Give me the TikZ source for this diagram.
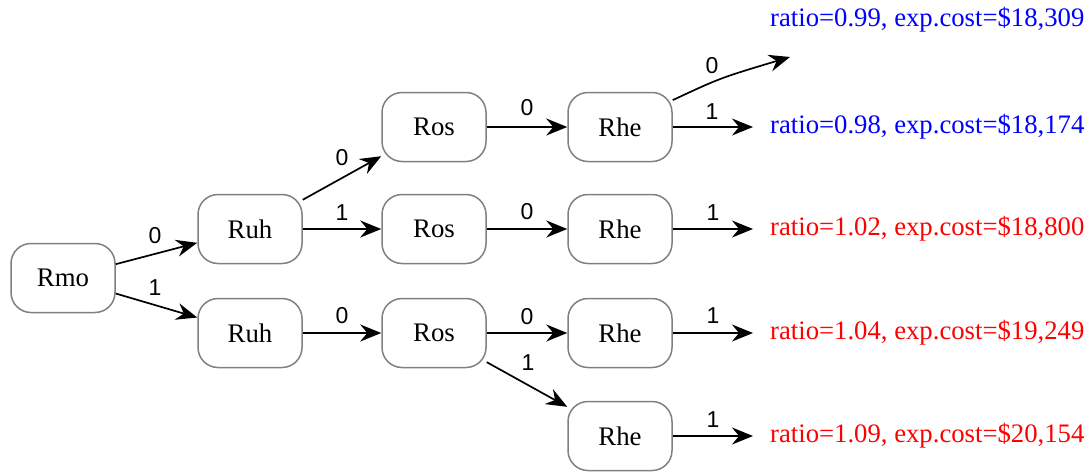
\documentclass[tikz,border=0pt]{standalone}
\usepackage{fontspec}
\setmainfont{Liberation Serif}
\newfontfamily\numfont{Liberation Sans}
\usetikzlibrary{arrows.meta}
\tikzset{
  box/.style={draw=gray, line width=1.5pt, rounded corners=20pt, minimum width=104pt, minimum height=69pt, font=\fontsize{26.8}{30}\selectfont},
  arr/.style={-{Stealth[length=21pt,width=17pt,inset=7pt]}, line width=1.7pt},
  num/.style={font=\numfont\fontsize{23}{26}\selectfont, inner sep=0pt},
  outc/.style={font=\fontsize{26.7}{30}\selectfont, anchor=west, inner xsep=17pt, inner ysep=2pt}
}
\newcommand\numlabel[4]{\node[num] (#1) at (#2,#3) {#4};}

\begin{document}
\begin{tikzpicture}[x=1pt,y=-1pt]
\useasboundingbox (0,0) rectangle (1091,471);
% the rules
\node[box] (rmo) at (63,278) {Rmo};
\node[box] (ruh0) at (250,229) {Ruh};
\node[box] (ruh1) at (250,333) {Ruh};
\node[box] (ros0) at (434,127) {Ros};
\node[box] (ros1) at (434,229) {Ros};
\node[box] (ros2) at (434,333) {Ros};
\foreach \n/\y in {0/127,1/229,2/333,3/436} \node[box] (rhe\n) at (620,\y) {Rhe};
% outcomes
\node[outc, blue] (out0) at (753,20) {ratio=0.99, exp.cost=\$18,309};
\node[outc, blue] (out1) at (753,127) {ratio=0.98, exp.cost=\$18,174};
\node[outc, red] (out2) at (753,229) {ratio=1.02, exp.cost=\$18,800};
\node[outc, red] (out3) at (753,333) {ratio=1.04, exp.cost=\$19,249};
\node[outc, red] (out4) at (753,436) {ratio=1.09, exp.cost=\$20,154};
\coordinate (end0) at (790,57);
% branches
\draw[arr] (rmo) -- (ruh0);
\draw[arr] (rmo) -- (ruh1);
\draw[arr] (ruh0) -- (ros0);
\draw[arr] (ruh0) -- (ros1);
\draw[arr] (ruh1) -- (ros2);
\draw[arr] (ros0) -- (rhe0);
\draw[arr] (ros1) -- (rhe1);
\draw[arr] (ros2) -- (rhe2);
\draw[arr] (ros2) -- (rhe3);
\draw[arr] (rhe0.27) .. controls (720,78) .. (end0);
\foreach \n in {1,...,4} \draw[arr] (rhe\the\numexpr\n-1\relax) -- (out\n);
% branch values
\numlabel{a0}{155}{236}{0}
\numlabel{a1}{155}{288}{1}
\numlabel{b0}{342}{158}{0}
\numlabel{b1}{342}{213}{1}
\numlabel{b2}{342}{316}{0}
\numlabel{c0}{527}{108}{0}
\numlabel{c1}{527}{212}{0}
\numlabel{c2}{527}{317}{0}
\numlabel{c3}{528}{363}{1}
\numlabel{d0}{712}{66}{0}
\numlabel{d1}{712}{112}{1}
\numlabel{d2}{713}{213}{1}
\numlabel{d3}{713}{316}{1}
\numlabel{d4}{713}{420}{1}
\end{tikzpicture}
\end{document}
